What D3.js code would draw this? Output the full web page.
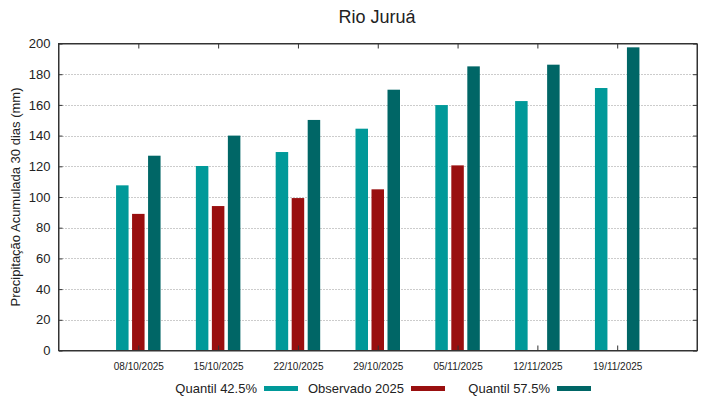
<!DOCTYPE html>
<html>
<head>
  <meta charset="utf-8">
  <title>Rio Juruá</title>
  <script src="https://d3js.org/d3.v7.min.js"></script>
  <style>
    body { margin: 0; background: #fff; }
    text { font-family: "Liberation Sans", Arial, sans-serif; fill: #222; }
  </style>
</head>
<body>
<script>
// dados
var datas = ["08/10/2025", "15/10/2025", "22/10/2025", "29/10/2025", "05/11/2025", "12/11/2025", "19/11/2025"];
var quantil425 = [107.6, 120.2, 129.3, 144.5, 159.9, 162.5, 171.0];
var observado = [89.0, 94.1, 99.3, 105.0, 120.6, null, null];
var quantil575 = [126.9, 140.0, 150.2, 169.9, 185.1, 186.2, 197.5];
var yTicks = [0, 20, 40, 60, 80, 100, 120, 140, 160, 180, 200];

var series = [
  { name: "Quantil 42.5%", values: quantil425, color: "#009999", offset: -16 },
  { name: "Observado 2025", values: observado, color: "#990f0f", offset: 0 },
  { name: "Quantil 57.5%", values: quantil575, color: "#006666", offset: 16 }
];

var width = 719, height = 399;
var mLeft = 58.5, mRight = 697, mTop = 43.5, mBottom = 350.5;
var barW = 12.5;

var svg = d3.select("body").append("svg").attr("width", width).attr("height", height);

var x = d3.scaleLinear().domain([0, datas.length + 1]).range([mLeft, mRight]);
var y = d3.scaleLinear().domain([0, 200]).range([mBottom, mTop]);

// grade
svg.append("g").selectAll("line")
  .data(yTicks.filter(function(d) { return d > 0 && d < 200; }))
  .enter().append("line")
  .attr("x1", mLeft + 4).attr("x2", mRight - 4)
  .attr("y1", function(d) { return Math.round(y(d)) + 0.5; })
  .attr("y2", function(d) { return Math.round(y(d)) + 0.5; })
  .attr("stroke", "#999").attr("stroke-width", 1).attr("stroke-dasharray", "1,2");

// barras
series.forEach(function(s) {
  svg.append("g").selectAll("rect")
    .data(s.values.map(function(v, i) { return { i: i, v: v }; }).filter(function(d) { return d.v != null; }))
    .enter().append("rect")
    .attr("x", function(d) { return x(d.i + 1) + s.offset - barW / 2; })
    .attr("y", function(d) { return y(d.v); })
    .attr("width", barW)
    .attr("height", function(d) { return mBottom - y(d.v); })
    .attr("fill", s.color);
});

// eixos
var idx = datas.map(function(d, i) { return i + 1; });
var ax = svg.append("g").attr("transform", "translate(0," + mBottom + ")")
  .call(d3.axisBottom(x).tickValues(idx).tickSizeInner(-5).tickSizeOuter(0)
    .tickFormat(function(d) { return datas[d - 1]; }).tickPadding(12));
ax.selectAll("text").style("font-size", "10px");

svg.append("g").attr("transform", "translate(0," + mTop + ")")
  .call(d3.axisTop(x).tickValues(idx).tickSizeInner(-5).tickSizeOuter(0).tickFormat(""));

var ay = svg.append("g").attr("transform", "translate(" + mLeft + ",0)")
  .call(d3.axisLeft(y).tickValues(yTicks).tickSizeInner(-4).tickSizeOuter(0).tickPadding(8));
ay.selectAll("text").style("font-size", "13px");

svg.append("g").attr("transform", "translate(" + mRight + ",0)")
  .call(d3.axisRight(y).tickValues(yTicks).tickSizeInner(-4).tickSizeOuter(0).tickFormat(""));

svg.selectAll(".domain").attr("stroke", "#333");
svg.selectAll(".tick line").attr("stroke", "#333");

// moldura
svg.append("rect").attr("x", mLeft).attr("y", mTop).attr("width", mRight - mLeft).attr("height", mBottom - mTop)
  .attr("fill", "none").attr("stroke", "#333");

// titulo
svg.append("text").attr("x", 377).attr("y", 23).attr("text-anchor", "middle")
  .style("font-size", "18px").text("Rio Juruá");

svg.append("text").attr("transform", "translate(20," + (mTop + mBottom) / 2 + ") rotate(-90)")
  .attr("text-anchor", "middle").style("font-size", "13px")
  .text("Precipitação Acumulada 30 dias (mm)");

// legenda
var legX = [257, 404, 550];
var leg = svg.append("g").selectAll("g").data(series).enter().append("g");
leg.append("text").attr("x", function(d, i) { return legX[i]; }).attr("y", 393)
  .attr("text-anchor", "end").style("font-size", "13px").text(function(d) { return d.name; });
leg.append("rect").attr("x", function(d, i) { return legX[i] + 7; }).attr("y", 386)
  .attr("width", 34).attr("height", 5).attr("fill", function(d) { return d.color; });
</script>
</body>
</html>
